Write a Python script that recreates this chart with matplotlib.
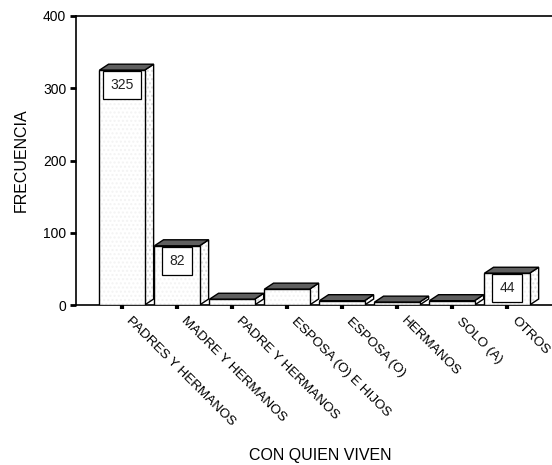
import matplotlib
matplotlib.use("Agg")
import matplotlib.pyplot as plt
from matplotlib.patches import Polygon
import matplotlib.transforms as mtransforms

plt.rcParams['font.family'] = ['Liberation Sans', 'DejaVu Sans']

categories = ["PADRES Y HERMANOS", "MADRE Y HERMANOS", "PADRE Y HERMANOS",
              "ESPOSA (O) E HIJOS", "ESPOSA (O)", "HERMANOS", "SOLO (A)", "OTROS"]
counts = [325, 82, 8, 22, 6, 4, 6, 44]
labelled = {0: "325", 1: "82", 7: "44"}
yticks = [0, 100, 200, 300, 400]

fig = plt.figure(figsize=(5.52, 4.65), dpi=100)
ax = fig.add_axes([0.1377, 0.344, 0.8623, 0.6216])
ax.set_xlim(-0.836, 7.818)
ax.set_ylim(0, 400)

width = 0.82
dx = 0.165   # depth of the 3D extrusion, x data units
dy = 8.3     # depth of the 3D extrusion, y data units

for i, v in enumerate(counts):
    xl = i - width / 2
    xr = i + width / 2
    # side face (faintly dotted)
    side = [(xr, 0), (xr + dx, dy), (xr + dx, v + dy), (xr, v)]
    ax.add_patch(Polygon(side, closed=True, facecolor='white', edgecolor='#dcdcdc',
                         hatch='....', linewidth=0, zorder=2))
    ax.add_patch(Polygon(side, closed=True, facecolor='none', edgecolor='black',
                         linewidth=1.0, zorder=3))
    # top face
    top = [(xl, v), (xl + dx, v + dy), (xr + dx, v + dy), (xr, v)]
    ax.add_patch(Polygon(top, closed=True, facecolor='#5f5f5f', edgecolor='black',
                         linewidth=1.0, zorder=3))

# front faces
ax.bar(range(len(counts)), counts, width=width, color='white', edgecolor='#f3f3f3',
       hatch='....', linewidth=0, zorder=4)
ax.bar(range(len(counts)), counts, width=width, color='none', edgecolor='black',
       linewidth=1.0, zorder=5)

for i, txt in labelled.items():
    ax.annotate(txt, xy=(i, counts[i]), xytext=(0, -5.8), textcoords='offset points',
                ha='center', va='top', fontsize=10, color='#222222', zorder=6,
                bbox=dict(boxstyle='square,pad=0.5', fc='white', ec='black', lw=0.9))

# category names, slanted down to the right below each tick
ax.set_xticks(range(len(categories)))
ax.set_xticklabels([])
label_shift = mtransforms.ScaledTranslation(7.6 / 72, -7.2 / 72, fig.dpi_scale_trans)
for i, name in enumerate(categories):
    ax.text(i, 0, name, transform=ax.get_xaxis_transform() + label_shift,
            rotation=-45, rotation_mode='anchor', ha='left', va='top',
            fontsize=9.7, clip_on=False)

ax.set_yticks(yticks)
ax.tick_params(axis='y', direction='out', length=4, width=2, labelsize=10, pad=3)
ax.tick_params(axis='x', direction='out', length=3, width=3, pad=2)

for s in ['left', 'bottom', 'top']:
    ax.spines[s].set_linewidth(1.2)
ax.spines['right'].set_visible(False)

ax.set_ylabel("FRECUENCIA", fontsize=11.5, labelpad=10)
fig.text(0.58, 0.004, "CON QUIEN VIVEN", ha='center', va='bottom', fontsize=11.5)

fig.savefig("out.png", dpi=100)
